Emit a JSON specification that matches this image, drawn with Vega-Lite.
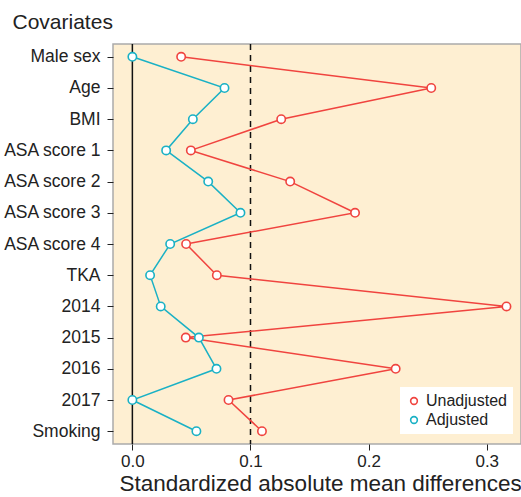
{
  "$schema": "https://vega.github.io/schema/vega-lite/v6.json",
  "width": 408,
  "height": 400,
  "autosize": "none",
  "padding": {"left": 113, "top": 44, "right": 0, "bottom": 53},
  "config": {
    "font": "Liberation Sans",
    "view": {"fill": "#FEEFD2", "stroke": "#AAAAAA", "strokeWidth": 1.5}
  },
  "data": {
    "values": [
      {"covariate": "Male sex", "i": 1, "group": "Unadjusted", "value": 0.0413},
      {"covariate": "Age", "i": 2, "group": "Unadjusted", "value": 0.253},
      {"covariate": "BMI", "i": 3, "group": "Unadjusted", "value": 0.126},
      {"covariate": "ASA score 1", "i": 4, "group": "Unadjusted", "value": 0.0495},
      {"covariate": "ASA score 2", "i": 5, "group": "Unadjusted", "value": 0.1336},
      {"covariate": "ASA score 3", "i": 6, "group": "Unadjusted", "value": 0.1885},
      {"covariate": "ASA score 4", "i": 7, "group": "Unadjusted", "value": 0.0455},
      {"covariate": "TKA", "i": 8, "group": "Unadjusted", "value": 0.0715},
      {"covariate": "2014", "i": 9, "group": "Unadjusted", "value": 0.3167},
      {"covariate": "2015", "i": 10, "group": "Unadjusted", "value": 0.0452},
      {"covariate": "2016", "i": 11, "group": "Unadjusted", "value": 0.2229},
      {"covariate": "2017", "i": 12, "group": "Unadjusted", "value": 0.0814},
      {"covariate": "Smoking", "i": 13, "group": "Unadjusted", "value": 0.1097},
      {"covariate": "Male sex", "i": 1, "group": "Adjusted", "value": 0.0},
      {"covariate": "Age", "i": 2, "group": "Adjusted", "value": 0.078},
      {"covariate": "BMI", "i": 3, "group": "Adjusted", "value": 0.0512},
      {"covariate": "ASA score 1", "i": 4, "group": "Adjusted", "value": 0.0286},
      {"covariate": "ASA score 2", "i": 5, "group": "Adjusted", "value": 0.0642},
      {"covariate": "ASA score 3", "i": 6, "group": "Adjusted", "value": 0.0915},
      {"covariate": "ASA score 4", "i": 7, "group": "Adjusted", "value": 0.032},
      {"covariate": "TKA", "i": 8, "group": "Adjusted", "value": 0.015},
      {"covariate": "2014", "i": 9, "group": "Adjusted", "value": 0.024},
      {"covariate": "2015", "i": 10, "group": "Adjusted", "value": 0.0563},
      {"covariate": "2016", "i": 11, "group": "Adjusted", "value": 0.0712},
      {"covariate": "2017", "i": 12, "group": "Adjusted", "value": 0.0},
      {"covariate": "Smoking", "i": 13, "group": "Adjusted", "value": 0.0542}
    ]
  },
  "encoding": {
    "x": {
      "field": "value",
      "type": "quantitative",
      "scale": {"domain": [-0.0164, 0.329], "nice": false, "zero": false},
      "axis": {
        "values": [0, 0.1, 0.2, 0.3],
        "format": ".1f",
        "grid": false,
        "domain": false,
        "tickColor": "#222222",
        "tickSize": 6,
        "labelFontSize": 17,
        "labelColor": "#222222",
        "labelPadding": 3,
        "title": "Standardized absolute mean differences",
        "titleFontSize": 22.5,
        "titleFontWeight": "normal",
        "titleColor": "#222222",
        "titlePadding": 3,
        "titleX": 6,
        "titleAlign": "left"
      }
    },
    "y": {
      "field": "covariate",
      "type": "nominal",
      "sort": ["Male sex", "Age", "BMI", "ASA score 1", "ASA score 2", "ASA score 3", "ASA score 4", "TKA", "2014", "2015", "2016", "2017", "Smoking"],
      "scale": {"type": "point", "padding": 0.41},
      "axis": {
        "grid": false,
        "domain": false,
        "tickColor": "#222222",
        "tickSize": 6,
        "labelFontSize": 17.5,
        "labelColor": "#222222",
        "labelPadding": 7,
        "title": "Covariates",
        "titleAngle": 0,
        "titleAlign": "left",
        "titleBaseline": "alphabetic",
        "titleX": -101,
        "titleY": -16,
        "titleFontSize": 21,
        "titleFontWeight": "normal",
        "titleColor": "#222222"
      }
    }
  },
  "layer": [
    {
      "data": {"values": [{"ref": 0}]},
      "mark": {"type": "rule", "color": "#111111", "strokeWidth": 1.5},
      "encoding": {"x": {"field": "ref", "type": "quantitative"}, "y": null}
    },
    {
      "data": {"values": [{"ref": 0.1}]},
      "mark": {"type": "rule", "color": "#111111", "strokeWidth": 1.5, "strokeDash": [6, 5]},
      "encoding": {"x": {"field": "ref", "type": "quantitative"}, "y": null}
    },
    {
      "mark": {"type": "line", "strokeWidth": 1.5},
      "encoding": {
        "color": {
          "field": "group",
          "type": "nominal",
          "scale": {"domain": ["Unadjusted", "Adjusted"], "range": ["#F0443F", "#1AB1C5"]}
        },
        "order": {"field": "i", "type": "quantitative"}
      }
    },
    {
      "mark": {"type": "point", "filled": false, "fill": "white", "fillOpacity": 1, "size": 70, "strokeWidth": 1.6, "opacity": 1},
      "encoding": {
        "color": {
          "field": "group",
          "type": "nominal",
          "scale": {"domain": ["Unadjusted", "Adjusted"], "range": ["#F0443F", "#1AB1C5"]},
          "legend": {
            "title": null,
            "orient": "none",
            "legendX": 287,
            "legendY": 343,
            "fillColor": "white",
            "padding": 6,
            "symbolType": "circle",
            "symbolSize": 45,
            "symbolStrokeWidth": 1.6,
            "symbolFillColor": "white",
            "labelFontSize": 16,
            "labelColor": "#222222",
            "rowPadding": 3,
            "labelOffset": 4
          }
        }
      }
    }
  ]
}
